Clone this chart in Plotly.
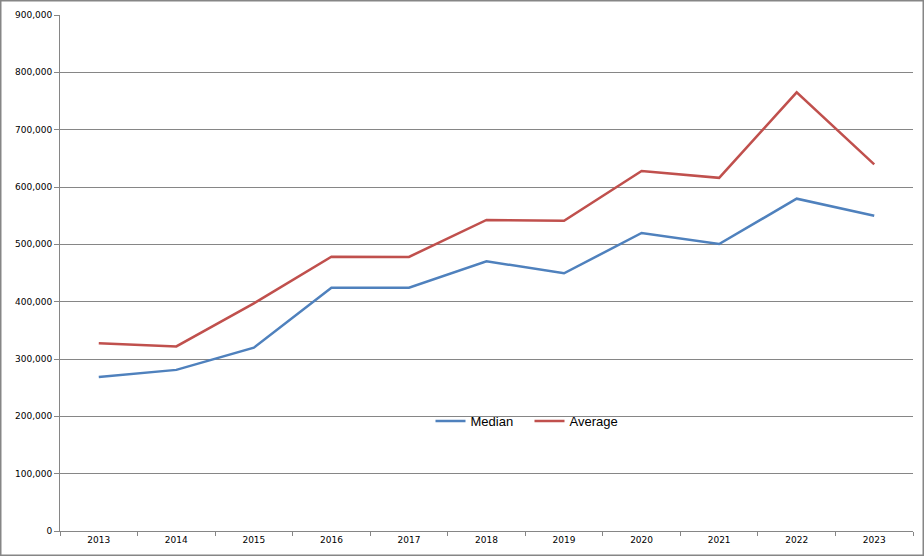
import plotly.graph_objects as go

years = ["2013", "2014", "2015", "2016", "2017", "2018", "2019", "2020", "2021", "2022", "2023"]
median = [268600, 281000, 319800, 424400, 424400, 470500, 449500, 519800, 500600, 579600, 550000]
average = [327400, 322000, 397000, 478500, 478000, 542500, 541000, 628000, 616000, 765000, 639600]

W, H = 924, 556
ml, mr, mt, mb = 60, 11, 15, 25
pw, ph = W - ml - mr, H - mt - mb

fig = go.Figure()
fig.add_trace(go.Scatter(x=years, y=median, name="Median", mode="lines",
                         line=dict(color="#4F81BD", width=2.5)))
fig.add_trace(go.Scatter(x=years, y=average, name="Average", mode="lines",
                         line=dict(color="#C0504D", width=2.5)))

fig.update_layout(
    width=W, height=H,
    margin=dict(l=ml, r=mr, t=mt, b=mb),
    paper_bgcolor="white", plot_bgcolor="white",
    showlegend=True,
    legend=dict(orientation="h", x=0.5 + 43 / pw, xanchor="center", y=(531 - 421) / ph, yanchor="middle",
                font=dict(family="Liberation Sans, Arial", size=13, color="#000000"),
                bgcolor="rgba(0,0,0,0)", itemwidth=30, tracegroupgap=0,
                entrywidth=54, entrywidthmode="pixels"),
    xaxis=dict(type="category", tickson="boundaries", ticks="outside", ticklen=4,
               tickcolor="#868686", showline=True, linecolor="#868686", linewidth=1,
               showgrid=False, tickfont=dict(family="DejaVu Sans, Verdana", size=9, color="#000000"),
               range=[-0.5, len(years) - 0.5], fixedrange=True),
    yaxis=dict(range=[0, 900000], dtick=100000, tickformat=",", ticks="outside", ticklen=5,
               tickcolor="#868686", showline=True, linecolor="#868686", linewidth=1,
               showgrid=True, gridcolor="#868686", gridwidth=1, zeroline=False,
               tickfont=dict(family="DejaVu Sans, Verdana", size=9, color="#000000")),
    shapes=[dict(type="rect", xref="paper", yref="paper",
                 x0=-(ml - 0.75) / pw, x1=1 + (mr - 0.75) / pw,
                 y0=-(mb - 0.75) / ph, y1=1 + (mt - 0.75) / ph,
                 line=dict(color="#868686", width=1.5), layer="above")],
)

fig.write_html("out.html", config={"displayModeBar": False},
               post_script="document.body.style.margin='0px';document.body.style.overflow='hidden';")
